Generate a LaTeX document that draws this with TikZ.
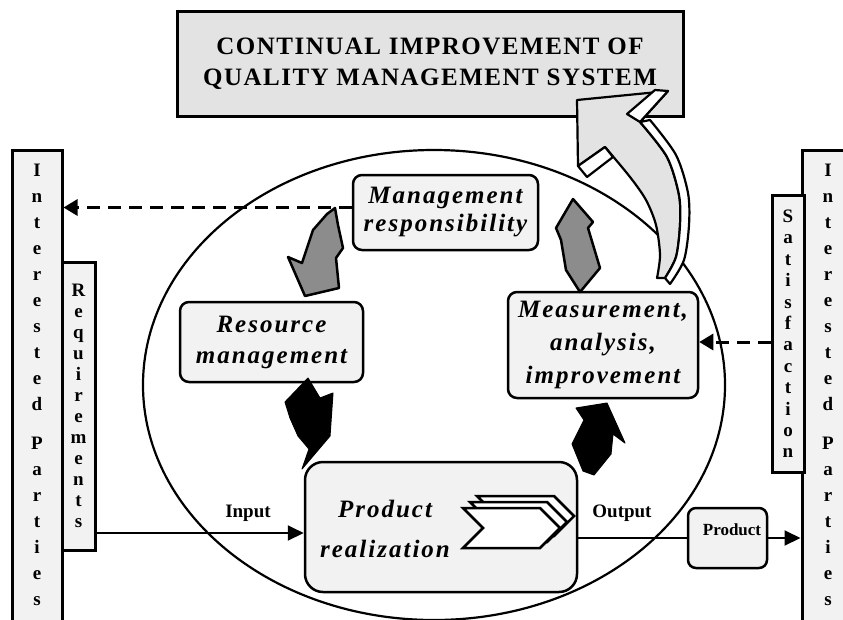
\documentclass[tikz,border=0pt]{standalone}
\usepackage{fontspec}
\setmainfont{Liberation Serif}
\usepackage{tikz}
\usetikzlibrary{arrows.meta, positioning, calc}
\definecolor{paneltint}{gray}{0.95}
\definecolor{titletint}{gray}{0.89}
\definecolor{shadegray}{gray}{0.55}
\newcommand{\boxfont}[1]{\fontsize{25}{#1}\selectfont\bfseries\itshape\addfontfeature{LetterSpace=8}}
\newcommand{\colfont}[1]{\fontsize{19}{#1}\selectfont\bfseries}

\begin{document}
\begin{tikzpicture}[
    x=1pt, y=-1pt,
    process/.style={
        rectangle, rounded corners=9pt,
        draw, line width=2.5pt, fill=paneltint,
        inner sep=0pt, align=center
    },
    sidebox/.style={
        rectangle, draw, line width=3pt, fill=paneltint,
        inner sep=0pt, align=center
    },
    plainlabel/.style={font=\fontsize{19}{22}\selectfont\bfseries, inner sep=0pt},
    flow/.style={line width=2pt, -{Triangle[length=16pt, width=15pt]}},
    feedback/.style={line width=3pt, dash pattern=on 13pt off 8pt, -{Triangle[length=14pt, width=16pt]}},
    darkturn/.style={fill=black, draw=black, line width=1pt, line join=round},
    greyturn/.style={fill=shadegray, draw=black, line width=2.5pt, line join=round},
    bigturn/.style={fill=titletint, draw=black, line width=2.2pt, line join=round},
    chevron/.style={fill=white, draw=black, line width=2.5pt, line join=miter}
]
\useasboundingbox (0,0) rectangle (843,619);
\clip (0,0) rectangle (843,619);
\fill[white] (0,0) rectangle (843,619);

% --- interested parties on both sides ---
\node[sidebox, minimum width=50pt, minimum height=500pt] (ipleft) at (37,400) {};
\node[inner sep=0pt, align=center, font=\colfont{26}] (ipleftcol) at (37,385)
    {I\\n\\t\\e\\r\\e\\s\\t\\e\\d\\[13pt]P\\a\\r\\t\\i\\e\\s};
\node[sidebox, minimum width=33pt, minimum height=288pt, font=\colfont{21}] (reqs) at (78.5,406)
    {R\\e\\q\\u\\i\\r\\e\\m\\e\\n\\t\\s};

\node[sidebox, minimum width=60pt, minimum height=500pt] (ipright) at (832,400) {};
\node[inner sep=0pt, align=center, font=\colfont{26}] (iprightcol) at (828,385)
    {I\\n\\t\\e\\r\\e\\s\\t\\e\\d\\[13pt]P\\a\\r\\t\\i\\e\\s};
\node[sidebox, minimum width=32pt, minimum height=277pt, font=\colfont{21.4}] (satisf) at (788,334)
    {S\\a\\t\\i\\s\\f\\a\\c\\t\\i\\o\\n};

% --- title ---
\node[sidebox, fill=titletint, minimum width=506pt, minimum height=105pt,
      font=\fontsize{25}{31}\selectfont\bfseries\addfontfeature{LetterSpace=6}] (title) at (430,64)
    {CONTINUAL IMPROVEMENT OF\\QUALITY MANAGEMENT SYSTEM};

% --- the cycle ---
\draw[line width=2.2pt] (434,385) ellipse [x radius=291pt, y radius=235pt];

% curved improvement arrow up to the title
\filldraw[bigturn] (577,100) -- (668,91) -- (640,122)
    -- plot[smooth] coordinates {(640,122) (667,157) (679,195) (680,225) (676,257) (665,278)}
    -- (657,278)
    -- plot[smooth] coordinates {(657,278) (660,255) (656,225) (646,200) (630,177) (605,147)}
    -- (578,166) -- cycle;
\filldraw[bigturn, fill=white]
    plot[smooth] coordinates {(640,122) (667,157) (679,195) (680,225) (676,257) (665,278)}
    -- (670,284)
    -- plot[smooth] coordinates {(670,284) (684,260) (689,225) (688,193) (676,155) (650,120)}
    -- cycle;
\filldraw[bigturn, fill=white] (640,122) -- (668,91) -- (655,90) -- (627,114) -- cycle;
\filldraw[bigturn, fill=white] (578,166) -- (605,147) -- (613,157) -- (587,177) -- cycle;

\node[process, minimum width=185pt, minimum height=75pt, font=\boxfont{28}] (mgmt) at (445.5,212.5)
    {Management\\responsibility};
\node[process, minimum width=183pt, minimum height=80pt, font=\boxfont{31}] (resmgmt) at (271.5,342)
    {Resource\\management};
\node[process, minimum width=190pt, minimum height=106pt, font=\boxfont{33}] (measure) at (603,345)
    {Measurement,\\analysis,\\improvement};
\node[process, rounded corners=18pt, minimum width=272pt, minimum height=130pt] (prodreal) at (441,527) {};
\node[inner sep=0pt, align=center, font=\boxfont{40}] (prodtext) at (385,529) {Product\\realization};

% chevrons inside product realization
\foreach \dx/\dy in {14/-12, 7/-6, 0/0}{
    \filldraw[chevron, shift={(\dx,\dy)}] (463,508) -- (540,508) -- (560,528) -- (540,548) -- (463,548) -- (483,528) -- cycle;
}

% block arrows round the cycle
\filldraw[greyturn] (335,208) -- (338,225) -- (343,248) -- (336,258) -- (339,288) -- (305,296)
    -- (288,257) -- (302,263) -- (313,230) -- (327,214) -- cycle;
\filldraw[darkturn] (308,378) -- (320,398) -- (333,393) -- (330,436) -- (302,469) -- (309,449)
    -- (298,436) -- (290,418) -- (285,402) -- cycle;
\filldraw[darkturn] (607,403) -- (625,443) -- (613,434) -- (611,454) -- (594,475) -- (583,471)
    -- (572,444) -- (584,420) -- (576,408) -- cycle;
\filldraw[greyturn] (573,199) -- (593,222) -- (588,228) -- (600,268) -- (580,292) -- (566,270)
    -- (561,240) -- (556,228) -- cycle;

% --- input / output ---
\node[plainlabel] (inlbl) at (248,513) {Input};
\node[plainlabel] (outlbl) at (622,513) {Output};
\node[process, rounded corners=8pt, minimum width=79pt, minimum height=60pt] (prodbox) at (727.5,538) {};
\node[inner sep=0pt, font=\fontsize{17}{20}\selectfont\bfseries] (prodlbl) at (732,530) {Product};

\coordinate (inlet) at ([yshift=-6pt]prodreal.west);
\draw[flow] (inlet -| reqs.east) -- (inlet);
\coordinate (outlet) at (prodbox.west -| prodreal.east);
\draw[line width=2pt] (outlet) -- (prodbox.west);
\draw[flow] (prodbox.east) -- (prodbox.east -| ipright.west);

% --- feedback ---
\coordinate (mgmtout) at ([yshift=5pt]mgmt.west);
\draw[feedback] (mgmtout) -- (mgmtout -| ipleft.east);
\coordinate (satout) at ([yshift=-8pt]satisf.west);
\draw[feedback] (satout) -- (satout -| measure.east);

\end{tikzpicture}
\end{document}
